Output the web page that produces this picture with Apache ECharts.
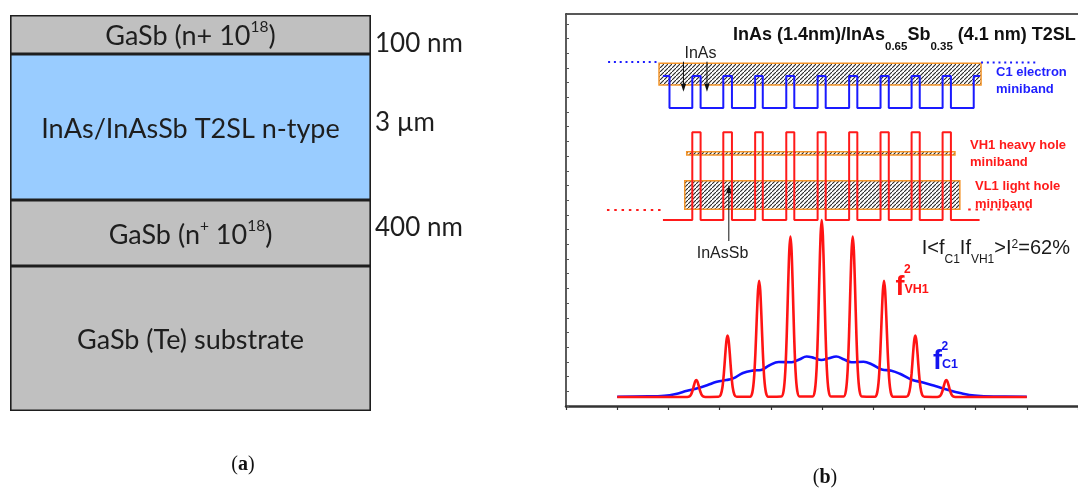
<!DOCTYPE html>
<html><head><meta charset="utf-8">
<script src="https://cdn.jsdelivr.net/npm/echarts@6/dist/echarts.min.js"></script>
<style>html,body{margin:0;padding:0;background:#fff}#c{width:1078px;height:489px}</style>
</head><body><div id="c"></div>
<script>
// ---------- Panel (a): layer stack (schematic drawn heights, bottom -> top) ----------
const layerKeys = ['substrate', 'contactBottom', 'superlattice', 'contactTop'];
const layerDrawnHeights = [145, 66, 146, 39];
const layerTexts = [
  '{m|GaSb (Te) substrate}',
  '{m|GaSb (n}{s|+}{m| 10}{s|18}{m|)}',
  '{m|InAs/InAsSb T2SL n-type}',
  '{m|GaSb (n+ 10}{s|18}{m|)}'
];
const thicknessTexts = ['100 nm', '3 µm', '400 nm'];

// ---------- Panel (b): band diagram (x in nm, y in arbitrary units) ----------
const cbLevels = [330, 298];            // electron profile: barrier top, well bottom
const cbStartX = 17.04, cbEndX = 72.79;
const cbSwitchX = [18.19, 22.20, 23.66, 27.65, 29.17, 33.25, 34.59, 38.72, 40.13, 44.23,
                   45.65, 49.77, 51.21, 55.29, 56.74, 60.75, 62.18, 66.20, 67.66, 71.67];
const vbLevels = [186, 273.7];          // hole profile: base, spike top
const vbStartX = 17.04, vbEndX = 72.7;
const vbSwitchX = [22.20, 23.66, 27.65, 29.17, 33.25, 34.59, 38.72, 40.13, 44.23,
                   45.65, 49.77, 51.21, 55.29, 56.74, 60.75, 62.18, 66.20, 67.66];
const cbDotLeft = [[7.4, 344], [16.35, 344]];
const cbDotRight = [[72.96, 343.5], [82.8, 343.5]];
const vbDotLeft = [[7.2, 196], [17.4, 196]];
const vbDotRight = [[70.7, 196.5], [81.9, 196.5]];
// minibands: [x0, x1, y0, y1]
const minibands = [[16.35, 72.96, 321, 342.7], [21.22, 68.37, 251, 254.3], [20.87, 69.23, 196.7, 225.3]];
// arrows: [x, yFrom, yTo]
const arrowsData = [[20.65, 344.3, 314.3], [24.78, 344.3, 314.3], [28.62, 165, 221]];

// |f_VH1|^2
const vh1Density = [
  [9.0, 9.0],
  [21.3, 9.05], [21.7, 9.6], [22.0, 11.7], [22.25, 15.5], [22.5, 20.8], [22.7, 24.5], [22.9, 26.0], [23.1, 24.5], [23.3, 20.8], [23.55, 15.5], [23.8, 11.7], [24.1, 9.6], [24.5, 9.05],
  [26.8, 9.2], [27.2, 11.3], [27.5, 18.8], [27.75, 32.6], [28.0, 51.8], [28.2, 65.2], [28.4, 70.5], [28.6, 65.2], [28.8, 51.8], [29.05, 32.6], [29.3, 18.8], [29.6, 11.3], [30.0, 9.2],
  [32.35, 9.3], [32.75, 13.4], [33.05, 27.6], [33.3, 53.7], [33.55, 90.0], [33.75, 115.2], [33.95, 125.3], [34.15, 115.2], [34.35, 90.0], [34.6, 53.7], [34.85, 27.6], [35.15, 13.4], [35.55, 9.3],
  [37.85, 9.5], [38.25, 15.1], [38.55, 34.7], [38.8, 70.6], [39.05, 120.7], [39.25, 155.5], [39.45, 169.5], [39.65, 155.5], [39.85, 120.7], [40.1, 70.6], [40.35, 34.7], [40.65, 15.1], [41.05, 9.5],
  [43.35, 9.5], [43.75, 15.7], [44.05, 37.3], [44.3, 77.0], [44.55, 132.2], [44.75, 170.6], [44.95, 186.0], [45.15, 170.6], [45.35, 132.2], [45.6, 77.0], [45.85, 37.3], [46.15, 15.7], [46.55, 9.5],
  [48.8, 9.5], [49.2, 15.1], [49.5, 34.7], [49.75, 70.6], [50.0, 120.7], [50.2, 155.5], [50.4, 169.5], [50.6, 155.5], [50.8, 120.7], [51.05, 70.6], [51.3, 34.7], [51.6, 15.1], [52.0, 9.5],
  [54.3, 9.3], [54.7, 13.4], [55.0, 27.6], [55.25, 53.7], [55.5, 90.0], [55.7, 115.2], [55.9, 125.3], [56.1, 115.2], [56.3, 90.0], [56.55, 53.7], [56.8, 27.6], [57.1, 13.4], [57.5, 9.3],
  [59.8, 9.2], [60.2, 11.3], [60.5, 18.8], [60.75, 32.6], [61.0, 51.8], [61.2, 65.2], [61.4, 70.5], [61.6, 65.2], [61.8, 51.8], [62.05, 32.6], [62.3, 18.8], [62.6, 11.3], [63.0, 9.2],
  [65.25, 9.05], [65.65, 9.6], [65.95, 11.7], [66.2, 15.5], [66.45, 20.8], [66.65, 24.5], [66.85, 26.0], [67.05, 24.5], [67.25, 20.8], [67.5, 15.5], [67.75, 11.7], [68.05, 9.6], [68.45, 9.05],
  [81.0, 9.0]
];
// |f_C1|^2
const c1Density = [
  [9.0, 9.3], [14.5, 9.6], [17.3, 10.3], [19.1, 11.8], [21.3, 15.2], [23.1, 17.8], [24.8, 20.8],
  [26.5, 24.2], [28.2, 26.0], [29.4, 27.6], [31.1, 33.0], [32.8, 35.4], [34.3, 36.0], [35.7, 40.5],
  [37.4, 44.0], [39.7, 43.8], [41.0, 46.5], [42.3, 49.5], [43.6, 48.0], [44.9, 46.0], [46.2, 47.8],
  [47.5, 49.5], [48.9, 46.5], [50.2, 43.8], [52.3, 44.2], [53.8, 41.5], [55.5, 36.6], [57.2, 35.3],
  [58.7, 32.2], [60.9, 26.0], [62.6, 23.8], [64.9, 20.0], [67.2, 16.0], [69.5, 12.7], [71.8, 10.4],
  [75.2, 9.4], [81.0, 9.3]
];

// ---------- helpers ----------
function stepProfile(startX, switches, endX, levels) {
  let li = 0;
  const pts = [[startX, levels[li]]];
  for (const x of switches) { pts.push([x, levels[li]]); li = 1 - li; pts.push([x, levels[li]]); }
  pts.push([endX, levels[li]]);
  return pts;
}
function makeHatch() {
  const c = document.createElement('canvas');
  c.width = 4; c.height = 4;
  const g = c.getContext('2d');
  g.strokeStyle = '#262626'; g.lineWidth = 1.1;
  g.beginPath(); g.moveTo(-1, 5); g.lineTo(5, -1); g.stroke();
  return c;
}
const hatch = makeHatch();

const SANS = '"Liberation Sans", Arial, sans-serif';
const CAL = 'Lato, "Open Sans", sans-serif';
const layerFill = { substrate: '#c0c0c0', contactBottom: '#c0c0c0', superlattice: '#99ccff', contactTop: '#c0c0c0' };

const chart = echarts.init(document.getElementById('c'), null, { renderer: 'canvas' });

const layerSeries = layerKeys.map((k, i) => ({
  type: 'bar', stack: 'layers', xAxisIndex: 0, yAxisIndex: 0, barWidth: '100%',
  data: [layerDrawnHeights[i]],
  itemStyle: { color: layerFill[k], borderColor: '#1e1e1e', borderWidth: 1.6 },
  label: {
    show: true, position: 'inside', formatter: layerTexts[i],
    rich: {
      m: { fontFamily: CAL, fontSize: 27, lineHeight: 31, verticalAlign: 'bottom', color: '#1e1e1e' },
      s: { fontFamily: CAL, fontSize: 15.5, lineHeight: 19, verticalAlign: 'top', color: '#1e1e1e' }
    }
  },
  emphasis: { disabled: true }, silent: true
}));

const lineBase = { type: 'line', xAxisIndex: 1, yAxisIndex: 1, showSymbol: false, symbol: 'none', silent: true, animation: false };

const option = {
  animation: false,
  grid: [
    { left: 10, top: 15, width: 361, height: 396 },
    { left: 566, top: 14, width: 523, height: 392 }
  ],
  xAxis: [
    { gridIndex: 0, type: 'category', data: ['stack'], show: false },
    { gridIndex: 1, type: 'value', min: 0, max: 90, interval: 9, position: 'bottom',
      axisLine: { onZero: false, lineStyle: { color: '#333', width: 2.5 } },
      axisTick: { inside: false, length: 4, lineStyle: { color: '#333', width: 1.2 } },
      axisLabel: { show: false }, splitLine: { show: false } },
    { gridIndex: 1, type: 'value', min: 0, max: 90, position: 'top',
      axisLine: { onZero: false, lineStyle: { color: '#222', width: 1.6 } },
      axisTick: { show: false }, axisLabel: { show: false }, splitLine: { show: false } }
  ],
  yAxis: [
    { gridIndex: 0, type: 'value', min: 0, max: 396, show: false },
    { gridIndex: 1, type: 'value', min: 0, max: 392, interval: 14.7,
      axisLine: { onZero: false, lineStyle: { color: '#333', width: 1.6 } },
      axisTick: { inside: true, length: 3, lineStyle: { color: '#555', width: 1 } },
      axisLabel: { show: false }, splitLine: { show: false } }
  ],
  series: [
    ...layerSeries,
    { type: 'custom', xAxisIndex: 1, yAxisIndex: 1, data: minibands, silent: true, z: 2,
      renderItem: (params, api) => {
        const a = api.coord([api.value(0), api.value(3)]);
        const b = api.coord([api.value(1), api.value(2)]);
        return { type: 'rect', shape: { x: a[0], y: a[1], width: b[0] - a[0], height: b[1] - a[1] },
          style: { fill: { image: hatch, repeat: 'repeat' }, stroke: '#f39428', lineWidth: 1.5 } };
      } },
    Object.assign({}, lineBase, { data: cbDotLeft, z: 3, lineStyle: { color: '#1a1aff', width: 2, type: [2, 3.8] } }),
    Object.assign({}, lineBase, { data: cbDotRight, z: 3, lineStyle: { color: '#1a1aff', width: 2, type: [2, 3.8] } }),
    Object.assign({}, lineBase, { data: vbDotLeft, z: 3, lineStyle: { color: '#ff1a1a', width: 2, type: [2.5, 4.8] } }),
    Object.assign({}, lineBase, { data: vbDotRight, z: 3, lineStyle: { color: '#ff1a1a', width: 2, type: [2.5, 4.8] } }),
    Object.assign({}, lineBase, { data: stepProfile(cbStartX, cbSwitchX, cbEndX, cbLevels), z: 4, lineStyle: { color: '#1a1aff', width: 2 } }),
    Object.assign({}, lineBase, { data: stepProfile(vbStartX, vbSwitchX, vbEndX, vbLevels), z: 4, lineStyle: { color: '#ff1a1a', width: 2 } }),
    { type: 'custom', xAxisIndex: 1, yAxisIndex: 1, data: arrowsData, silent: true, z: 6,
      renderItem: (params, api) => {
        const p0 = api.coord([api.value(0), api.value(1)]);
        const p1 = api.coord([api.value(0), api.value(2)]);
        const d = p1[1] > p0[1] ? 1 : -1;
        return { type: 'group', children: [
          { type: 'line', shape: { x1: p0[0], y1: p0[1], x2: p1[0], y2: p1[1] - d * 5 }, style: { stroke: '#111', lineWidth: 1 } },
          { type: 'polygon', shape: { points: [[p1[0], p1[1]], [p1[0] - 2.6, p1[1] - d * 8], [p1[0] + 2.6, p1[1] - d * 8]] }, style: { fill: '#111' } }
        ] };
      } },
    Object.assign({}, lineBase, { data: c1Density, z: 5, smooth: 0.4, lineStyle: { color: '#1010ff', width: 2.6 } }),
    Object.assign({}, lineBase, { data: vh1Density, z: 6, smooth: 0.25, lineStyle: { color: '#ff1414', width: 2.6 } })
  ],
  graphic: [
    { type: 'text', x: 375, y: 43.3, z: 10, style: { text: thicknessTexts[0], font: '26px ' + CAL, fill: '#1e1e1e', verticalAlign: 'middle' } },
    { type: 'text', x: 375, y: 122.7, z: 10, style: { text: thicknessTexts[1], font: '26px ' + CAL, fill: '#1e1e1e', verticalAlign: 'middle' } },
    { type: 'text', x: 375, y: 227.7, z: 10, style: { text: thicknessTexts[2], font: '26px ' + CAL, fill: '#1e1e1e', verticalAlign: 'middle' } },
    { type: 'text', x: 243, y: 465, z: 10, style: { text: '{p|(}{b|a}{p|)}', align: 'center', verticalAlign: 'middle',
      rich: { p: { fontFamily: '"Liberation Serif", serif', fontSize: 20, fill: '#111' }, b: { fontFamily: '"Liberation Serif", serif', fontSize: 20, fontWeight: 'bold', fill: '#111' } } } },
    { type: 'text', x: 825, y: 478, z: 10, style: { text: '{p|(}{b|b}{p|)}', align: 'center', verticalAlign: 'middle',
      rich: { p: { fontFamily: '"Liberation Serif", serif', fontSize: 20, fill: '#111' }, b: { fontFamily: '"Liberation Serif", serif', fontSize: 20, fontWeight: 'bold', fill: '#111' } } } },
    // title
    { type: 'text', x: 733, y: 26.5, z: 10, style: {
      text: '{m|InAs (1.4nm)/InAs}{s|0.65}{m|Sb}{s|0.35}{m| (4.1 nm) T2SL}{sp|\u200b}', verticalAlign: 'top', fill: '#111',
      rich: {
        m: { fontFamily: SANS, fontWeight: 'bold', fontSize: 18, lineHeight: 20, verticalAlign: 'top', fill: '#111' },
        s: { fontFamily: SANS, fontWeight: 'bold', fontSize: 11.5, lineHeight: 12, verticalAlign: 'bottom', fill: '#111' },
        sp: { fontSize: 10, lineHeight: 26 }
      } } },
    { type: 'text', x: 700.5, y: 53.8, z: 10, style: { text: 'InAs', font: '16px ' + SANS, fill: '#222', align: 'center', verticalAlign: 'middle' } },
    { type: 'text', x: 722.5, y: 253.3, z: 10, style: { text: 'InAsSb', font: '16px ' + SANS, fill: '#222', align: 'center', verticalAlign: 'middle' } },
    { type: 'text', x: 996, y: 64.4, z: 10, style: { text: 'C1 electron\nminiband', font: 'bold 13px ' + SANS, fill: '#1f1fff', lineHeight: 16.6, verticalAlign: 'top' } },
    { type: 'text', x: 970, y: 136.3, z: 10, style: { text: 'VH1 heavy hole\nminiband', font: 'bold 13px ' + SANS, fill: '#ff1a1a', lineHeight: 17.3, verticalAlign: 'top' } },
    { type: 'text', x: 975, y: 178, z: 10, style: { text: 'VL1 light hole\nminiband', font: 'bold 13px ' + SANS, fill: '#ff1a1a', lineHeight: 17.3, verticalAlign: 'top' } },
    // overlap formula
    { type: 'text', x: 921.7, y: 238.2, z: 10, style: {
      text: '{m|I<f}{s|C1}{m|If}{s|VH1}{m|>I}{p|2}{m|=62%}{sp|\u200b}', verticalAlign: 'top', fill: '#1a1a1a',
      rich: {
        m: { fontFamily: SANS, fontSize: 20, lineHeight: 22, verticalAlign: 'top', fill: '#1a1a1a' },
        s: { fontFamily: SANS, fontSize: 12, lineHeight: 12, verticalAlign: 'bottom', fill: '#1a1a1a' },
        p: { fontFamily: SANS, fontSize: 12, lineHeight: 8, verticalAlign: 'top', fill: '#1a1a1a' },
        sp: { fontSize: 10, lineHeight: 27.5 }
      } } },
    // f^2 VH1
    { type: 'text', x: 895.5, y: 274, z: 10, style: { text: 'f', font: 'bold 27px ' + SANS, fill: '#ff1414', verticalAlign: 'top' } },
    { type: 'text', x: 904, y: 270, z: 10, style: { text: '2', font: 'bold 12px ' + SANS, fill: '#ff1414', verticalAlign: 'middle' } },
    { type: 'text', x: 904.5, y: 290, z: 10, style: { text: 'VH1', font: 'bold 12.5px ' + SANS, fill: '#ff1414', verticalAlign: 'middle' } },
    // f^2 C1
    { type: 'text', x: 933, y: 348, z: 10, style: { text: 'f', font: 'bold 27px ' + SANS, fill: '#1414f0', verticalAlign: 'top' } },
    { type: 'text', x: 941.5, y: 346.7, z: 10, style: { text: '2', font: 'bold 12px ' + SANS, fill: '#1414f0', verticalAlign: 'middle' } },
    { type: 'text', x: 942, y: 365, z: 10, style: { text: 'C1', font: 'bold 12.5px ' + SANS, fill: '#1414f0', verticalAlign: 'middle' } }
  ]
};
chart.setOption(option);
</script></body></html>
